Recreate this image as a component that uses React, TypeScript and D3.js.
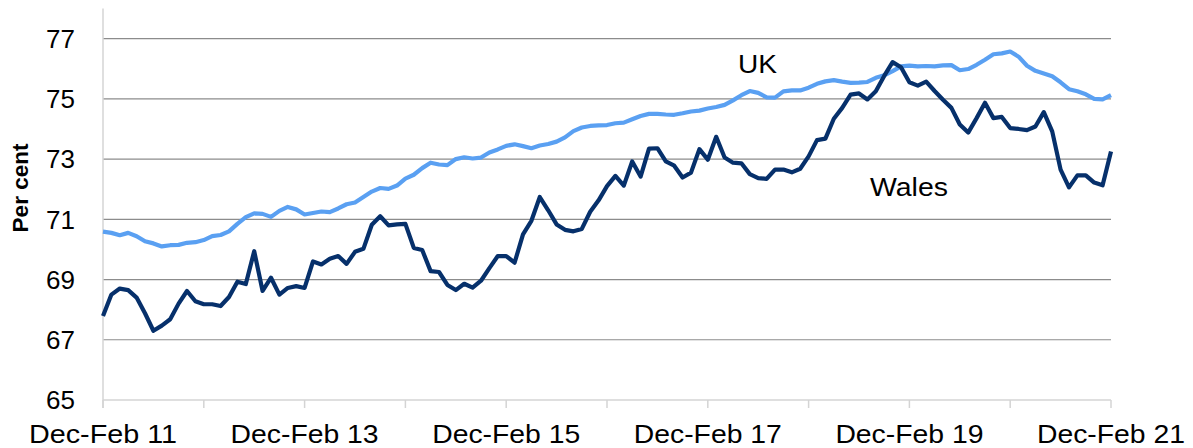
import * as d3 from 'd3';

const MONTHS = ['Jan', 'Feb', 'Mar', 'Apr', 'May', 'Jun', 'Jul', 'Aug', 'Sep', 'Oct', 'Nov', 'Dec'];

// rolling three-month periods, Dec-Feb 11 .. Dec-Feb 21
const periods: string[] = d3.range(121).map((i) => {
  const start = (11 + i) % 12;
  const end = (start + 2) % 12;
  const yr = 11 + Math.floor((i + 1) / 12);
  return `${MONTHS[start]}-${MONTHS[end]} ${yr}`;
});

const ukRate = [
  70.59, 70.55, 70.47, 70.55, 70.44, 70.27, 70.2, 70.1, 70.14, 70.15,
  70.22, 70.24, 70.31, 70.44, 70.48, 70.6, 70.85, 71.07, 71.2, 71.18,
  71.08, 71.28, 71.41, 71.33, 71.16, 71.21, 71.26, 71.24, 71.36, 71.5,
  71.56, 71.74, 71.92, 72.04, 72.01, 72.12, 72.35, 72.48, 72.7, 72.88,
  72.82, 72.8, 73.0, 73.06, 73.02, 73.05, 73.22, 73.32, 73.44, 73.49,
  73.43, 73.36, 73.45, 73.5, 73.58, 73.72, 73.93, 74.05, 74.1, 74.12,
  74.13, 74.19, 74.21, 74.32, 74.43, 74.5, 74.5, 74.48, 74.47, 74.52,
  74.58, 74.61, 74.68, 74.73, 74.8, 74.95, 75.12, 75.26, 75.2, 75.05,
  75.04, 75.25, 75.28, 75.28, 75.37, 75.5, 75.58, 75.62, 75.57, 75.53,
  75.54, 75.56, 75.7, 75.78, 75.92, 76.08, 76.1, 76.08, 76.09, 76.08,
  76.11, 76.12, 75.95, 75.99, 76.13, 76.3, 76.48, 76.51, 76.57, 76.4,
  76.1, 75.93, 75.84, 75.75, 75.55, 75.32, 75.25, 75.15, 75.0, 74.98,
  75.12,
];

const walesRate = [
  67.79, 68.5, 68.7, 68.65, 68.4, 67.88, 67.3, 67.47, 67.68, 68.2,
  68.62, 68.28, 68.18, 68.18, 68.12, 68.42, 68.93, 68.85, 69.94, 68.62,
  69.06, 68.5, 68.72, 68.78, 68.72, 69.6, 69.5, 69.69, 69.78, 69.52,
  69.92, 70.02, 70.82, 71.1, 70.8, 70.83, 70.85, 70.05, 69.98, 69.28,
  69.25, 68.82, 68.65, 68.86, 68.73, 68.96, 69.38, 69.78, 69.78, 69.56,
  70.5, 70.95, 71.74, 71.3, 70.83, 70.65, 70.6, 70.68, 71.25, 71.63,
  72.1, 72.44, 72.12, 72.92, 72.42, 73.35, 73.36, 72.92, 72.78, 72.39,
  72.55, 73.33, 72.98, 73.74, 73.05, 72.88, 72.86, 72.5, 72.37, 72.34,
  72.65, 72.65, 72.56, 72.68, 73.09, 73.63, 73.68, 74.34, 74.7, 75.14,
  75.18, 74.98, 75.25, 75.76, 76.22, 76.05, 75.55, 75.44, 75.57, 75.26,
  74.97, 74.7, 74.15, 73.88, 74.36, 74.87, 74.36, 74.4, 74.03, 74.0,
  73.96, 74.08, 74.56, 73.92, 72.65, 72.06, 72.46, 72.46, 72.22, 72.13,
  73.25,
];

const yTicks = [65, 67, 69, 71, 73, 75, 77];
const xTickLabels = ['Dec-Feb 11', 'Dec-Feb 13', 'Dec-Feb 15', 'Dec-Feb 17', 'Dec-Feb 19', 'Dec-Feb 21'];

const W = 1193;
const H = 448;
const FONT = 'Liberation Sans, Arial, sans-serif';

export default function App() {
  const x = d3.scalePoint<string>().domain(periods).range([103, 1111]);
  const y = d3.scaleLinear().domain([65, 78]).range([400, 8.5]);

  const line = d3
    .line<number>()
    .x((_, i) => x(periods[i]) ?? 0)
    .y((d) => y(d));

  // a tick every 12 months
  const yearTicks = periods.filter((_, i) => i % 12 === 0);

  return (
    <div style={{ position: 'absolute', left: 0, top: 0 }}>
      <svg width={W} height={H} style={{ display: 'block', background: '#fff' }} fontFamily={FONT}>
        {/* gridlines */}
        {yTicks.filter((t) => t > 65).map((t) => (
          <line key={t} x1={103} x2={1111} y1={y(t)} y2={y(t)} stroke="#8c8c8c" strokeWidth={1.2} />
        ))}

        {/* axes */}
        <line x1={103} x2={103} y1={8.5} y2={408} stroke="#d4d4d4" strokeWidth={1.5} />
        <line x1={103} x2={1111} y1={400} y2={400} stroke="#d4d4d4" strokeWidth={1.5} />
        {yearTicks.map((p) => (
          <line key={p} x1={x(p)} x2={x(p)} y1={400} y2={408} stroke="#d4d4d4" strokeWidth={1.5} />
        ))}

        {/* y tick labels */}
        {yTicks.map((t) => (
          <text key={t} x={75} y={y(t)} dy="0.36em" textAnchor="end" fontSize={26} fill="#000">
            {t}
          </text>
        ))}

        {/* x tick labels, slightly wide as in the source */}
        {xTickLabels.map((lbl) => (
          <text
            key={lbl}
            x={(x(lbl) ?? 0) - 74}
            y={443}
            fontSize={26}
            fill="#000"
            textLength={148}
            lengthAdjust="spacingAndGlyphs"
          >
            {lbl}
          </text>
        ))}

        <text
          transform="translate(28,188) rotate(-90)"
          textAnchor="middle"
          fontSize={22.5}
          fontWeight="bold"
          fill="#000"
        >
          Per cent
        </text>

        {/* series */}
        <path d={line(ukRate) ?? ''} fill="none" stroke="#5aa0f2" strokeWidth={4.2} strokeLinejoin="round" />
        <path d={line(walesRate) ?? ''} fill="none" stroke="#06306b" strokeWidth={4.2} strokeLinejoin="round" />

        <text x={738} y={73} fontSize={26} fill="#000" textLength={39} lengthAdjust="spacingAndGlyphs">UK</text>
        <text x={870} y={196} fontSize={26} fill="#000" textLength={78} lengthAdjust="spacingAndGlyphs">Wales</text>
      </svg>
    </div>
  );
}
